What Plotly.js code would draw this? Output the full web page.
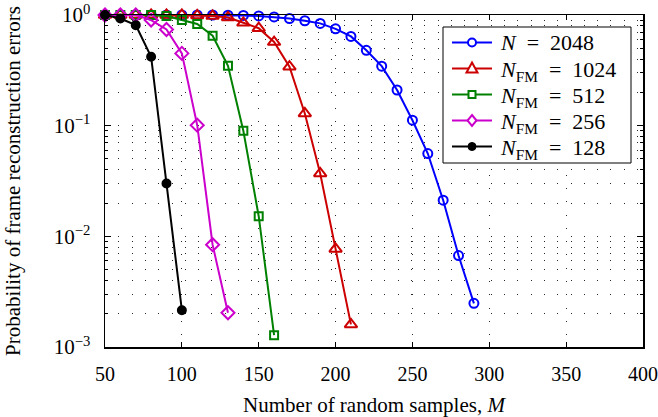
<!DOCTYPE html>
<html>
<head>
<meta charset="utf-8">
<script src="https://cdn.plot.ly/plotly-3.0.1.min.js"></script>
<style>html,body{margin:0;padding:0;background:#fff;}#chart{width:658px;height:417px;}</style>
</head>
<body>
<div id="chart"></div>
<script>
// ---- data ----
const mBlue = [50,60,70,80,90,100,110,120,130,140,150,160,170,180,190,200,210,220,230,240,250,260,270,280,290];
const pBlue = [1,1,1,1,1,1,1,1,0.995,0.99,0.98,0.96,0.93,0.887,0.84,0.75,0.64,0.48,0.345,0.21,0.112,0.056,0.0212,0.0067,0.00248];
const mRed = [50,60,70,80,90,100,110,120,130,140,150,160,170,180,190,200,210];
const pRed = [1,1,1,1,1,1,0.99,0.98,0.95,0.85,0.76,0.57,0.341,0.129,0.037,0.0077,0.0016];
const mGreen = [50,60,70,80,90,100,110,120,130,140,150,160];
const pGreen = [1,1,1,1,0.98,0.90,0.83,0.65,0.347,0.090,0.0152,0.00128];
const mMag = [50,60,70,80,90,100,110,120,130];
const pMag = [1,1,1,0.90,0.74,0.45,0.101,0.0084,0.00204];
const mBlack = [50,60,70,80,90,100];
const pBlack = [1,0.93,0.81,0.42,0.030,0.00215];

const seriesNames = ['<i>N</i>\u2002=\u20022048','<i>N</i><sub>FM</sub>\u2002=\u20021024','<i>N</i><sub>FM</sub>\u2002=\u2002512','<i>N</i><sub>FM</sub>\u2002=\u2002256','<i>N</i><sub>FM</sub>\u2002=\u2002128'];

const xTicks = [50,100,150,200,250,300,350,400];
const yTicks = [0.001,0.01,0.1,1];
const yTickText = ['10<sup>−3</sup>','10<sup>−2</sup>','10<sup>−1</sup>','10<sup>0</sup>'];
const yMinor = [0.002,0.003,0.004,0.005,0.006,0.007,0.008,0.009,0.02,0.03,0.04,0.05,0.06,0.07,0.08,0.09,0.2,0.3,0.4,0.5,0.6,0.7,0.8,0.9];

// ---- styles ----
const FONT = 'Liberation Serif, Times New Roman, serif';
const GRID = 'rgba(0,0,0,0.85)';
const DASH = '1px,12.3px';
const colors = ['#0000ff', '#cc0000', '#008000', '#cc00cc', '#000000'];
const symbols = ['circle-open', 'triangle-up-open', 'square-open', 'diamond-open', 'circle'];
const sizes = [9, 11, 8, 10, 8];

const W = 658, H = 417;
const M = {l: 105, r: 15, t: 15, b: 70};
const PW = W - M.l - M.r, PH = H - M.t - M.b;
const px = X => (X - M.l) / PW;          // pixel -> paper x
const py = Y => 1 - (Y - M.t) / PH;      // pixel -> paper y

function tr(x, y, i) {
  return {
    x: x, y: y, name: seriesNames[i], type: 'scatter', mode: 'lines+markers',
    cliponaxis: false, showlegend: false,
    line: {color: colors[i], width: 2},
    marker: {symbol: symbols[i], size: sizes[i], color: colors[i], line: {color: colors[i], width: 2}}
  };
}

const data = [
  tr(mBlue, pBlue, 0), tr(mRed, pRed, 1), tr(mGreen, pGreen, 2), tr(mMag, pMag, 3), tr(mBlack, pBlack, 4)
];

// ---- hand-built legend (box, sample lines, symbols, labels) ----
const LG = {x0: 443, x1: 631, y0: 27, y1: 163, lx0: 452, lx1: 492, tx: 498, row0: 42.5, dRow: 26};
const shapes = [{
  type: 'rect', xref: 'paper', yref: 'paper', layer: 'above',
  x0: px(LG.x0), x1: px(LG.x1), y0: py(LG.y1), y1: py(LG.y0),
  fillcolor: '#fff', line: {color: '#000', width: 1}
}];
const annotations = [];
function pathPaper(pts) {
  return 'M' + pts.map(p => px(p[0]) + ',' + py(p[1])).join('L') + 'Z';
}
for (let i = 0; i < seriesNames.length; i++) {
  const cy = LG.row0 + i * LG.dRow, cx = (LG.lx0 + LG.lx1) / 2, c = colors[i];
  shapes.push({type: 'line', xref: 'paper', yref: 'paper', layer: 'above',
    x0: px(LG.lx0), x1: px(LG.lx1), y0: py(cy), y1: py(cy), line: {color: c, width: 2}});
  const base = {xref: 'paper', yref: 'paper', layer: 'above', line: {color: c, width: 2}, fillcolor: '#fff'};
  if (i === 0) {
    shapes.push(Object.assign({}, base, {type: 'circle', x0: px(cx - 4), x1: px(cx + 4), y0: py(cy + 4), y1: py(cy - 4)}));
  } else if (i === 1) {
    shapes.push(Object.assign({}, base, {type: 'path', path: pathPaper([[cx, cy - 6], [cx + 5.5, cy + 4], [cx - 5.5, cy + 4]])}));
  } else if (i === 2) {
    shapes.push(Object.assign({}, base, {type: 'rect', x0: px(cx - 3.5), x1: px(cx + 3.5), y0: py(cy + 3.5), y1: py(cy - 3.5)}));
  } else if (i === 3) {
    shapes.push(Object.assign({}, base, {type: 'path', path: pathPaper([[cx, cy - 5.5], [cx + 4.5, cy], [cx, cy + 5.5], [cx - 4.5, cy]])}));
  } else {
    shapes.push(Object.assign({}, base, {type: 'circle', fillcolor: c, line: {color: c, width: 1},
      x0: px(cx - 4), x1: px(cx + 4), y0: py(cy + 4), y1: py(cy - 4)}));
  }
  annotations.push({xref: 'paper', yref: 'paper', x: px(LG.tx), y: py(cy + (i === 0 ? 0 : 2.5)),
    xanchor: 'left', yanchor: 'middle', showarrow: false, text: seriesNames[i],
    font: {family: FONT, size: 22, color: '#000'}});
}

const layout = {
  width: W, height: H,
  margin: M,
  paper_bgcolor: '#fff', plot_bgcolor: '#fff',
  font: {family: FONT, size: 20, color: '#000'},
  showlegend: false,
  shapes: shapes,
  annotations: annotations,
  xaxis: {
    range: [50, 400], tickmode: 'array', tickvals: xTicks,
    ticks: 'inside', ticklen: 5, tickwidth: 1, tickcolor: '#000',
    showline: true, linecolor: '#000', linewidth: 1.5, mirror: 'ticks',
    showgrid: true, gridcolor: GRID, gridwidth: 1, griddash: DASH,
    zeroline: false, ticklabeloverflow: 'allow', ticklabelstandoff: 8,
    tickfont: {family: FONT, size: 20},
    title: {text: 'Number of random samples, <i>M</i>', font: {family: FONT, size: 21}, standoff: 22}
  },
  yaxis: {
    type: 'log', range: [-3, 0], tickmode: 'array', tickvals: yTicks, ticktext: yTickText,
    ticks: 'inside', ticklen: 6, tickwidth: 1, tickcolor: '#000',
    showline: true, linecolor: '#000', linewidth: 1.5, mirror: 'ticks',
    showgrid: true, gridcolor: GRID, gridwidth: 1, griddash: DASH,
    zeroline: false, ticklabelstandoff: 9,
    minor: {tickmode: 'array', tickvals: yMinor, ticks: 'inside', ticklen: 3, tickcolor: '#000', showgrid: true, gridcolor: GRID, gridwidth: 1, griddash: DASH},
    tickfont: {family: FONT, size: 21},
    title: {text: 'Probability of frame reconstruction errors', font: {family: FONT, size: 21}, standoff: 27}
  }
};

Plotly.newPlot('chart', data, layout, {displayModeBar: false, staticPlot: true});
</script>
</body>
</html>
